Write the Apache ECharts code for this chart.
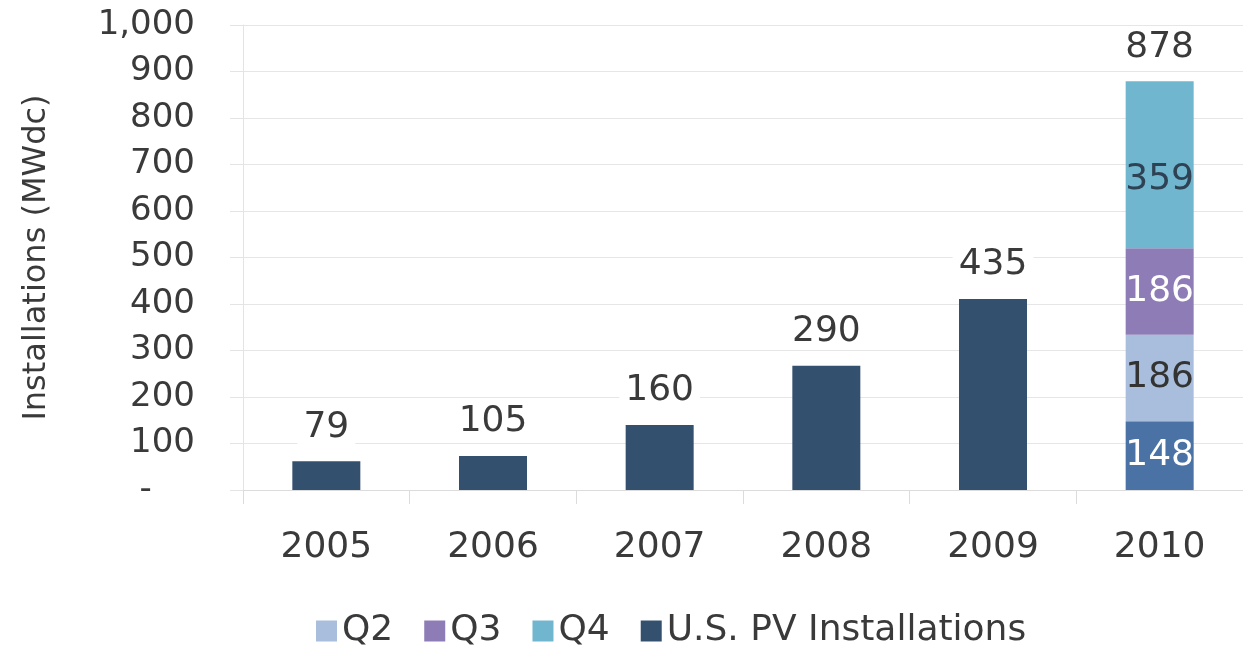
<!DOCTYPE html>
<html>
<head>
<meta charset="utf-8">
<script src="https://cdn.jsdelivr.net/npm/echarts@6/dist/echarts.min.js"></script>
<style>
  html, body { margin: 0; padding: 0; background: #fff; }
  #chart { width: 1243px; height: 648px; }
</style>
</head>
<body>
<div id="chart"></div>
<script>
// values
const years = ['2005', '2006', '2007', '2008', '2009', '2010']
const pvValues = [62, 73, 140, 267, 411, 148]
const pvLabels = ['79', '105', '160', '290', '435', '148']
const q2Values = [null, null, null, null, null, 186]
const q3Values = [null, null, null, null, null, 186]
const q4Values = [null, null, null, null, null, 359]
const totalLabels = ['', '', '', '', '', '878']

const font = 'DejaVu Sans'
const textColor = '#3a3a3a'

const chart = echarts.init(document.getElementById('chart'))

// 2010 first quarter is drawn in a lighter blue with a white label inside
const pvData = pvValues.map((v, i) => {
  if (i === 5) {
    return {
      value: v,
      itemStyle: { color: '#4a72a4' },
      label: {
        position: 'inside',
        color: '#fff',
        distance: 0,
        backgroundColor: 'transparent',
        padding: 0
      }
    }
  }
  return v
})

const option = {
  animation: false,
  backgroundColor: '#fff',
  textStyle: { fontFamily: font },
  grid: {
    left: 243,
    right: -14,
    top: 25,
    bottom: 158
  },
  legend: {
    data: ['Q2', 'Q3', 'Q4', 'U.S. PV Installations'],
    left: 311,
    top: 608,
    itemWidth: 21,
    itemHeight: 21,
    itemGap: 31,
    icon: 'rect',
    textStyle: { fontSize: 36, color: textColor, fontFamily: font }
  },
  xAxis: {
    type: 'category',
    data: years,
    axisLine: { lineStyle: { color: '#dcdcdc' } },
    axisTick: { show: true, length: 14, lineStyle: { color: '#dcdcdc' } },
    axisLabel: { fontSize: 36, color: textColor, margin: 40, fontFamily: font }
  },
  yAxis: {
    type: 'value',
    min: 0,
    max: 1000,
    interval: 100,
    name: 'Installations (MWdc)',
    nameLocation: 'middle',
    nameGap: 190,
    nameRotate: 90,
    nameTextStyle: { fontSize: 32, color: textColor, fontFamily: font },
    axisLine: { show: true, lineStyle: { color: '#e4e4e4' } },
    axisTick: { show: true, length: 13, lineStyle: { color: '#e4e4e4' } },
    splitLine: { lineStyle: { color: '#e6e6e6' } },
    axisLabel: {
      fontSize: 34,
      color: textColor,
      margin: 48,
      fontFamily: font,
      formatter: v => (v === 0 ? '-    ' : v.toLocaleString('en-US'))
    }
  },
  series: [
    {
      name: 'U.S. PV Installations',
      type: 'bar',
      stack: 'total',
      barWidth: 68,
      data: pvData,
      itemStyle: { color: '#34506f' },
      label: {
        show: true,
        position: 'top',
        distance: 16,
        fontSize: 36,
        color: textColor,
        fontFamily: font,
        backgroundColor: '#fff',
        padding: [0, 6],
        formatter: p => pvLabels[p.dataIndex]
      }
    },
    {
      name: 'Q2',
      type: 'bar',
      stack: 'total',
      data: q2Values,
      itemStyle: { color: '#a8bedc' },
      label: { show: true, position: 'inside', fontSize: 36, color: '#333', fontFamily: font }
    },
    {
      name: 'Q3',
      type: 'bar',
      stack: 'total',
      data: q3Values,
      itemStyle: { color: '#8e7cb6' },
      label: { show: true, position: 'inside', fontSize: 36, color: '#fff', fontFamily: font }
    },
    {
      name: 'Q4',
      type: 'bar',
      stack: 'total',
      data: q4Values,
      itemStyle: { color: '#70b6cf' },
      label: { show: true, position: 'inside', offset: [0, 15], fontSize: 36, color: '#2e4254', fontFamily: font }
    },
    {
      name: 'Total',
      type: 'bar',
      stack: 'total',
      data: [null, null, null, null, null, 0],
      itemStyle: { color: 'transparent' },
      label: {
        show: true,
        position: 'top',
        distance: 16,
        fontSize: 36,
        color: textColor,
        fontFamily: font,
        formatter: p => totalLabels[p.dataIndex]
      }
    }
  ]
}

chart.setOption(option)
</script>
</body>
</html>
